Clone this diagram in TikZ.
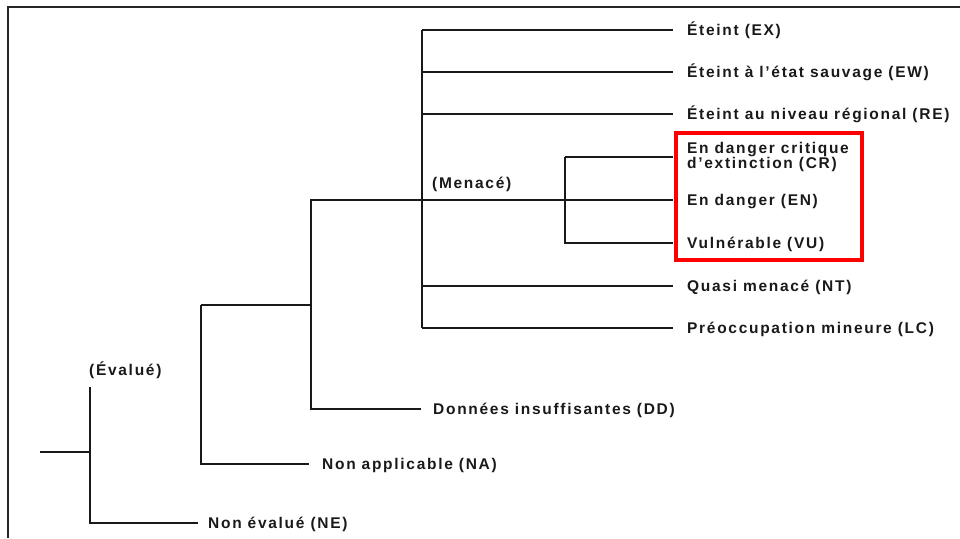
\documentclass[tikz,border=0pt]{standalone}
\usepackage{fontspec}
\setmainfont{Liberation Sans}[LetterSpace=11]
\begin{document}
\begin{tikzpicture}[x=1pt,y=-1pt,
  tree/.style={line width=1.4pt, draw=black!90},
  lbl/.style={anchor=west, inner sep=0pt, text=black!90, font=\fontsize{15.5}{14}\selectfont\bfseries, text height=11.1pt, text depth=0pt},
  lbltwo/.style={anchor=west, inner sep=0pt, text=black!90, align=left, font=\fontsize{15.5}{14}\selectfont\bfseries}]
\useasboundingbox (0,0) rectangle (960,538);
% frame
\draw[line width=1.8pt, black!85] (8,538) -- (8,7) -- (960,7);
% labels
\node[lbl] (EX) at (687,30) {Éteint (EX)};
\node[lbl] (EW) at (687,72) {Éteint à l’état sauvage (EW)};
\node[lbl] (RE) at (687,114) {Éteint au niveau régional (RE)};
\node[lbltwo] (CR) at (687,157) {En danger critique\\d’extinction (CR)};
\node[lbl] (EN) at (687,200) {En danger (EN)};
\node[lbl] (VU) at (687,243) {Vulnérable (VU)};
\node[lbl] (NT) at (687,286) {Quasi menacé (NT)};
\node[lbl] (LC) at (687,328) {Préoccupation mineure (LC)};
\node[lbl] (DD) at (433,409) {Données insuffisantes (DD)};
\node[lbl] (NA) at (322,464) {Non applicable (NA)};
\node[lbl] (NE) at (208,523) {Non évalué (NE)};
\node[lbl] (EV) at (89,370) {(Évalué)};
\node[lbl] (ME) at (432,183) {(Menacé)};
% junctions
\coordinate (root) at (40,452);
\coordinate (jA) at (90,452);
\coordinate (jAtop) at (90,387);
\coordinate (jB) at (201,305);
\coordinate (jC) at (311,305);
\coordinate (jM) at (422,200);
\coordinate (jMtop) at (422,30);
\coordinate (jMbot) at (422,328);
\coordinate (jT) at (565,200);
% tree
\draw[tree] (root) -- (jA);
\draw[tree] (jAtop) -- (jA) |- ([xshift=-10pt]NE.west);
\draw[tree] (jB) |- ([xshift=-13pt]NA.west);
\draw[tree] (jB) -- (jC) |- ([xshift=-12pt]DD.west);
\draw[tree] (jC) |- ([xshift=-14pt]EN.west);
\draw[tree] (jMtop) -- (jMbot);
\draw[tree] (jMtop) -- ([xshift=-14pt]EX.west);
\draw[tree] (jM |- EW.west) -- ([xshift=-14pt]EW.west);
\draw[tree] (jM |- RE.west) -- ([xshift=-14pt]RE.west);
\draw[tree] (jM |- NT.west) -- ([xshift=-14pt]NT.west);
\draw[tree] (jMbot) -- ([xshift=-14pt]LC.west);
\draw[tree] (jT |- CR.west) -- ([xshift=-14pt]CR.west);
\draw[tree] (jT |- CR.west) -- (jT |- VU.west) -- ([xshift=-14pt]VU.west);
% highlight box
\draw[red, line width=4.5pt] (676,133) rectangle (862,260);
\end{tikzpicture}
\end{document}
